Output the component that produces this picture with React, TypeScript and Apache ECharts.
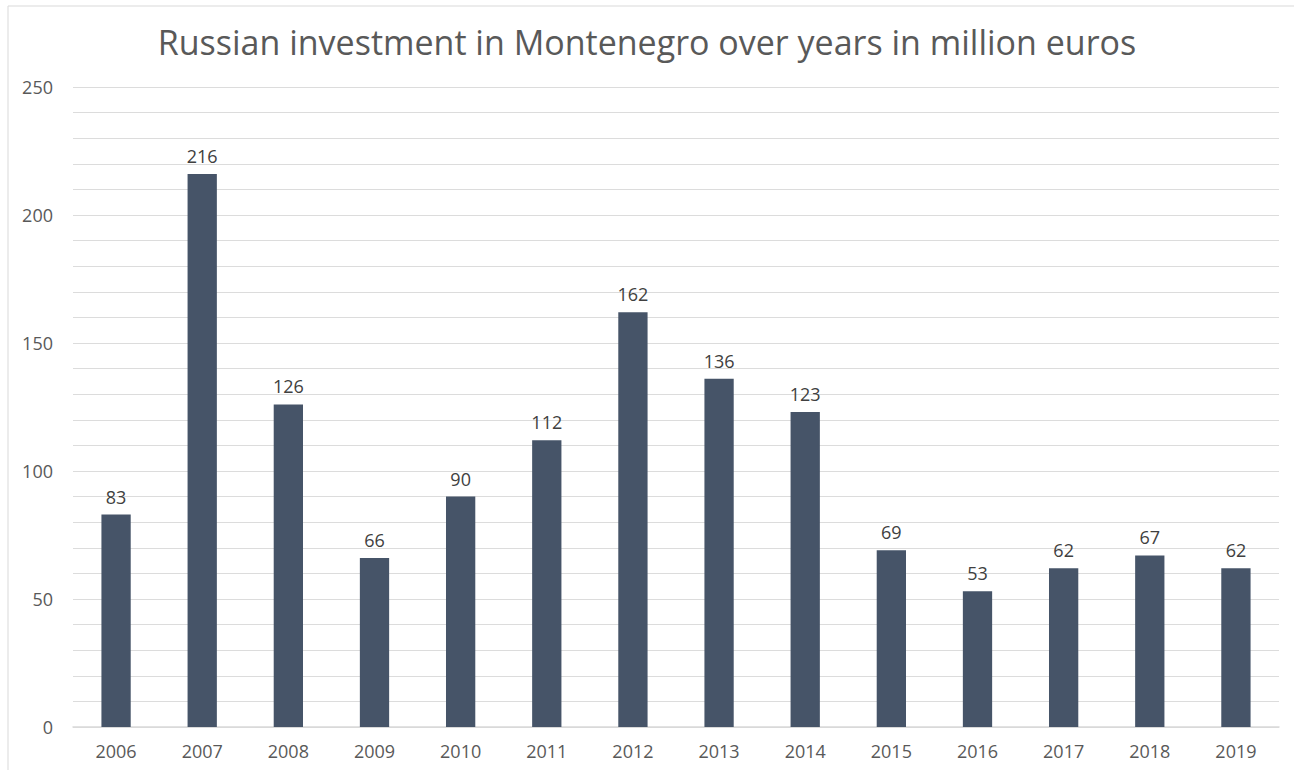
import React, { useEffect, useRef } from "react";
import * as echarts from "echarts";

const years = ["2006", "2007", "2008", "2009", "2010", "2011", "2012", "2013", "2014", "2015", "2016", "2017", "2018", "2019"];
const investment = [83, 216, 126, 66, 90, 112, 162, 136, 123, 69, 53, 62, 67, 62];
const titleText = "Russian investment in Montenegro over years in million euros";

export default function App() {
  const ref = useRef<HTMLDivElement>(null);
  useEffect(() => {
    if (!ref.current) return;
    const chart = echarts.init(ref.current, undefined, { renderer: "svg" });
    const font = "'Open Sans', 'Liberation Sans', sans-serif";
    chart.setOption({
      animation: false,
      backgroundColor: "#ffffff",
      title: {
        text: titleText,
        left: "center",
        top: 20,
        textStyle: { fontFamily: font, fontSize: 34, fontWeight: "normal", color: "#595959" },
      },
      graphic: [
        { type: "line", shape: { x1: 8, y1: 6, x2: 1294, y2: 6 }, style: { stroke: "#d9d9d9", lineWidth: 1 } },
        { type: "line", shape: { x1: 8, y1: 6, x2: 8, y2: 770 }, style: { stroke: "#d9d9d9", lineWidth: 1 } },
      ],
      grid: { left: 73, right: 15, top: 87, bottom: 43, containLabel: false },
      xAxis: {
        type: "category",
        data: years,
        axisTick: { show: false },
        axisLine: { lineStyle: { color: "#d9d9d9", width: 1.5 } },
        axisLabel: { fontFamily: font, fontSize: 18, color: "#595959", margin: 15 },
      },
      yAxis: {
        type: "value",
        min: 0,
        max: 250,
        interval: 10,
        axisLine: { show: false },
        axisTick: { show: false },
        axisLabel: {
          fontFamily: font,
          fontSize: 18,
          color: "#595959",
          margin: 20,
          formatter: (v: number) => (v % 50 === 0 ? String(v) : ""),
        },
        splitLine: { lineStyle: { color: "#dcdcdc", width: 1 } },
      },
      series: [
        {
          type: "bar",
          data: investment,
          barWidth: "34%",
          itemStyle: { color: "#465468" },
          label: {
            show: true,
            position: "top",
            distance: 9,
            fontFamily: font,
            fontSize: 18,
            color: "#404040",
          },
        },
      ],
    });
    return () => chart.dispose();
  }, []);
  return (
    <div
      ref={ref}
      style={{ position: "absolute", left: 0, top: 0, width: 1294, height: 770 }}
    />
  );
}
